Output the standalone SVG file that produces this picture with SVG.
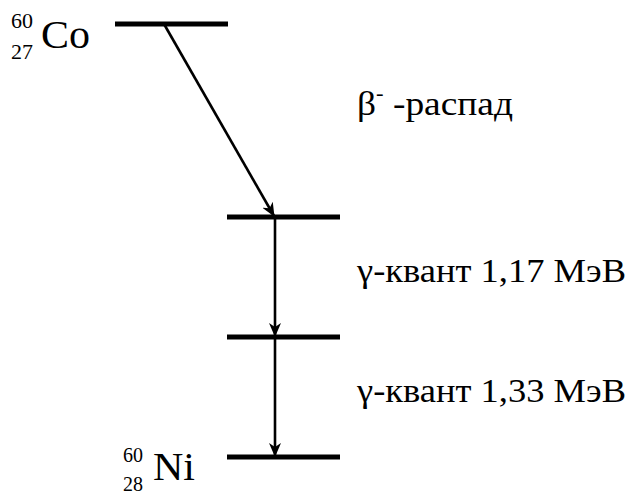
<svg xmlns="http://www.w3.org/2000/svg" width="633" height="491" viewBox="0 0 633 491">
<style>
.lvl{stroke:#000;stroke-width:5;fill:none}
.arr{stroke:#000;stroke-width:2.6;fill:none;marker-end:url(#ah)}
</style>
<defs>
<marker id="ah" viewBox="0 0 14 12" refX="13" refY="6" markerWidth="14" markerHeight="12" markerUnits="userSpaceOnUse" orient="auto">
<path d="M0,0 L14,6 L0,12 L4,6 Z" fill="#000"/>
</marker>
</defs>
<rect width="633" height="491" fill="#fff"/>
<g id="co60">
<line class="lvl" x1="115" y1="24" x2="228" y2="24"/>
<text x="41" y="48" font-size="40" style="font-family:'Liberation Serif',serif" textLength="49" lengthAdjust="spacingAndGlyphs">Co</text>
<text x="11" y="28" font-size="22" style="font-family:'Liberation Serif',serif" textLength="22" lengthAdjust="spacingAndGlyphs">60</text>
<text x="11" y="59" font-size="22" style="font-family:'Liberation Serif',serif" textLength="22" lengthAdjust="spacingAndGlyphs">27</text>
</g>
<g id="level1">
<line class="lvl" x1="227" y1="217" x2="340" y2="217"/>
</g>
<g id="level2">
<line class="lvl" x1="227" y1="337" x2="340" y2="337"/>
</g>
<g id="ni60">
<line class="lvl" x1="227" y1="457" x2="340" y2="457"/>
<text x="153" y="480" font-size="40" style="font-family:'Liberation Serif',serif" textLength="42" lengthAdjust="spacingAndGlyphs">Ni</text>
<text x="123" y="462" font-size="22" style="font-family:'Liberation Serif',serif" textLength="20" lengthAdjust="spacingAndGlyphs">60</text>
<text x="123" y="491" font-size="22" style="font-family:'Liberation Serif',serif" textLength="20" lengthAdjust="spacingAndGlyphs">28</text>
</g>
<g id="connectors">
<line class="arr" x1="164" y1="24" x2="274" y2="216"/>
<line class="arr" x1="275" y1="217" x2="275" y2="336"/>
<line class="arr" x1="275" y1="337" x2="275" y2="456"/>
</g>
<g id="labels">
<text x="357" y="115" font-size="33" style="font-family:'Liberation Serif',serif" textLength="156" lengthAdjust="spacingAndGlyphs">β<tspan font-size="20" dy="-15">-</tspan><tspan dy="15"> -распад</tspan></text>
<text x="357" y="282" font-size="33" style="font-family:'Liberation Serif',serif" textLength="269" lengthAdjust="spacingAndGlyphs">γ-квант 1,17 МэВ</text>
<text x="357" y="402" font-size="33" style="font-family:'Liberation Serif',serif" textLength="269" lengthAdjust="spacingAndGlyphs">γ-квант 1,33 МэВ</text>
</g>
</svg>
